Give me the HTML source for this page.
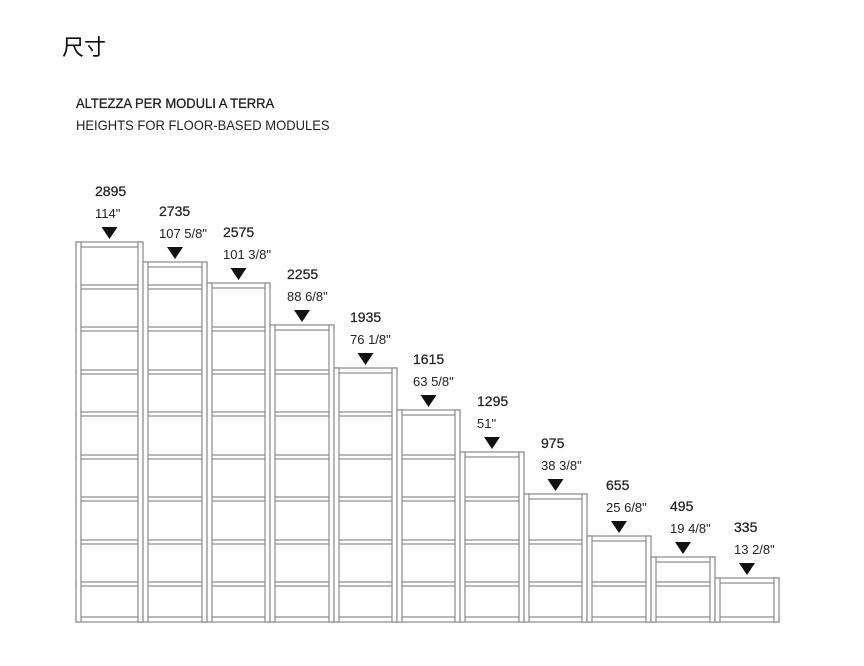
<!DOCTYPE html>
<html><head><meta charset="utf-8"><style>
body{margin:0;background:#fff;}
svg{display:block}
.t{font-family:"Liberation Sans Narrow","Liberation Sans",sans-serif;fill:#222;}
</style></head><body>
<svg width="864" height="666" viewBox="0 0 864 666" xmlns="http://www.w3.org/2000/svg">
<rect width="864" height="666" fill="#fff"/>
<text x="62" y="55" font-family="'Noto Sans CJK SC',sans-serif" font-size="22" fill="#111">尺寸</text>
<text class="t" x="76" y="108" font-size="14" fill="#1a1a1a" stroke="#1a1a1a" stroke-width="0.3" transform="translate(76 0) scale(0.93 1) translate(-76 0)">ALTEZZA PER MODULI A TERRA</text>
<text class="t" x="76" y="130" font-size="14" fill="#333" transform="translate(76 0) scale(0.93 1) translate(-76 0)">HEIGHTS FOR FLOOR-BASED MODULES</text>
<g fill="#fff" stroke="#8a8a8a" stroke-width="1.2">
<rect x="76" y="285" width="131" height="4"/>
<rect x="76" y="327" width="194" height="4"/>
<rect x="76" y="370" width="258" height="4"/>
<rect x="76" y="412" width="321" height="4"/>
<rect x="76" y="455" width="384" height="4"/>
<rect x="76" y="497" width="448" height="4"/>
<rect x="76" y="540" width="511" height="4"/>
<rect x="76" y="582" width="639" height="4"/>
<rect x="76" y="617" width="703" height="5"/>
<rect x="76" y="242" width="67" height="5"/>
<rect x="143" y="262" width="64" height="5"/>
<rect x="207" y="283" width="63" height="5"/>
<rect x="270" y="325" width="64" height="5"/>
<rect x="334" y="368" width="63" height="5"/>
<rect x="397" y="410" width="63" height="5"/>
<rect x="460" y="452" width="64" height="5"/>
<rect x="524" y="494" width="63" height="5"/>
<rect x="587" y="536" width="64" height="5"/>
<rect x="651" y="557" width="64" height="5"/>
<rect x="715" y="578" width="64" height="5"/>
<rect x="76" y="242" width="5" height="380"/><rect x="138" y="242" width="5" height="380"/>
<rect x="143" y="262" width="5" height="360"/><rect x="202" y="262" width="5" height="360"/>
<rect x="207" y="283" width="5" height="339"/><rect x="265" y="283" width="5" height="339"/>
<rect x="270" y="325" width="5" height="297"/><rect x="329" y="325" width="5" height="297"/>
<rect x="334" y="368" width="5" height="254"/><rect x="392" y="368" width="5" height="254"/>
<rect x="397" y="410" width="5" height="212"/><rect x="455" y="410" width="5" height="212"/>
<rect x="460" y="452" width="5" height="170"/><rect x="519" y="452" width="5" height="170"/>
<rect x="524" y="494" width="5" height="128"/><rect x="582" y="494" width="5" height="128"/>
<rect x="587" y="536" width="5" height="86"/><rect x="646" y="536" width="5" height="86"/>
<rect x="651" y="557" width="5" height="65"/><rect x="710" y="557" width="5" height="65"/>
<rect x="715" y="578" width="5" height="44"/><rect x="774" y="578" width="5" height="44"/>
</g>
<g fill="#111">
<polygon points="101.5,227 117.5,227 109.5,239"/>
<polygon points="167,247 183,247 175,259"/>
<polygon points="230.5,268 246.5,268 238.5,280"/>
<polygon points="294,310 310,310 302,322"/>
<polygon points="357.5,353 373.5,353 365.5,365"/>
<polygon points="420.5,395 436.5,395 428.5,407"/>
<polygon points="484,437 500,437 492,449"/>
<polygon points="547.5,479 563.5,479 555.5,491"/>
<polygon points="611,521 627,521 619,533"/>
<polygon points="675,542 691,542 683,554"/>
<polygon points="739,563 755,563 747,575"/>
</g>
<g class="t" font-size="14" stroke="#222" stroke-width="0.25">
<text x="95" y="196">2895</text><text x="95" y="218" font-size="13" stroke="none">114"</text>
<text x="159" y="216">2735</text><text x="159" y="238" font-size="13" stroke="none">107 5/8"</text>
<text x="223" y="237">2575</text><text x="223" y="259" font-size="13" stroke="none">101 3/8"</text>
<text x="287" y="279">2255</text><text x="287" y="301" font-size="13" stroke="none">88 6/8"</text>
<text x="350" y="322">1935</text><text x="350" y="344" font-size="13" stroke="none">76 1/8"</text>
<text x="413" y="364">1615</text><text x="413" y="386" font-size="13" stroke="none">63 5/8"</text>
<text x="477" y="406">1295</text><text x="477" y="428" font-size="13" stroke="none">51"</text>
<text x="541" y="448">975</text><text x="541" y="470" font-size="13" stroke="none">38 3/8"</text>
<text x="606" y="490">655</text><text x="606" y="512" font-size="13" stroke="none">25 6/8"</text>
<text x="670" y="511">495</text><text x="670" y="533" font-size="13" stroke="none">19 4/8"</text>
<text x="734" y="532">335</text><text x="734" y="554" font-size="13" stroke="none">13 2/8"</text>
</g>
</svg>
</body></html>
